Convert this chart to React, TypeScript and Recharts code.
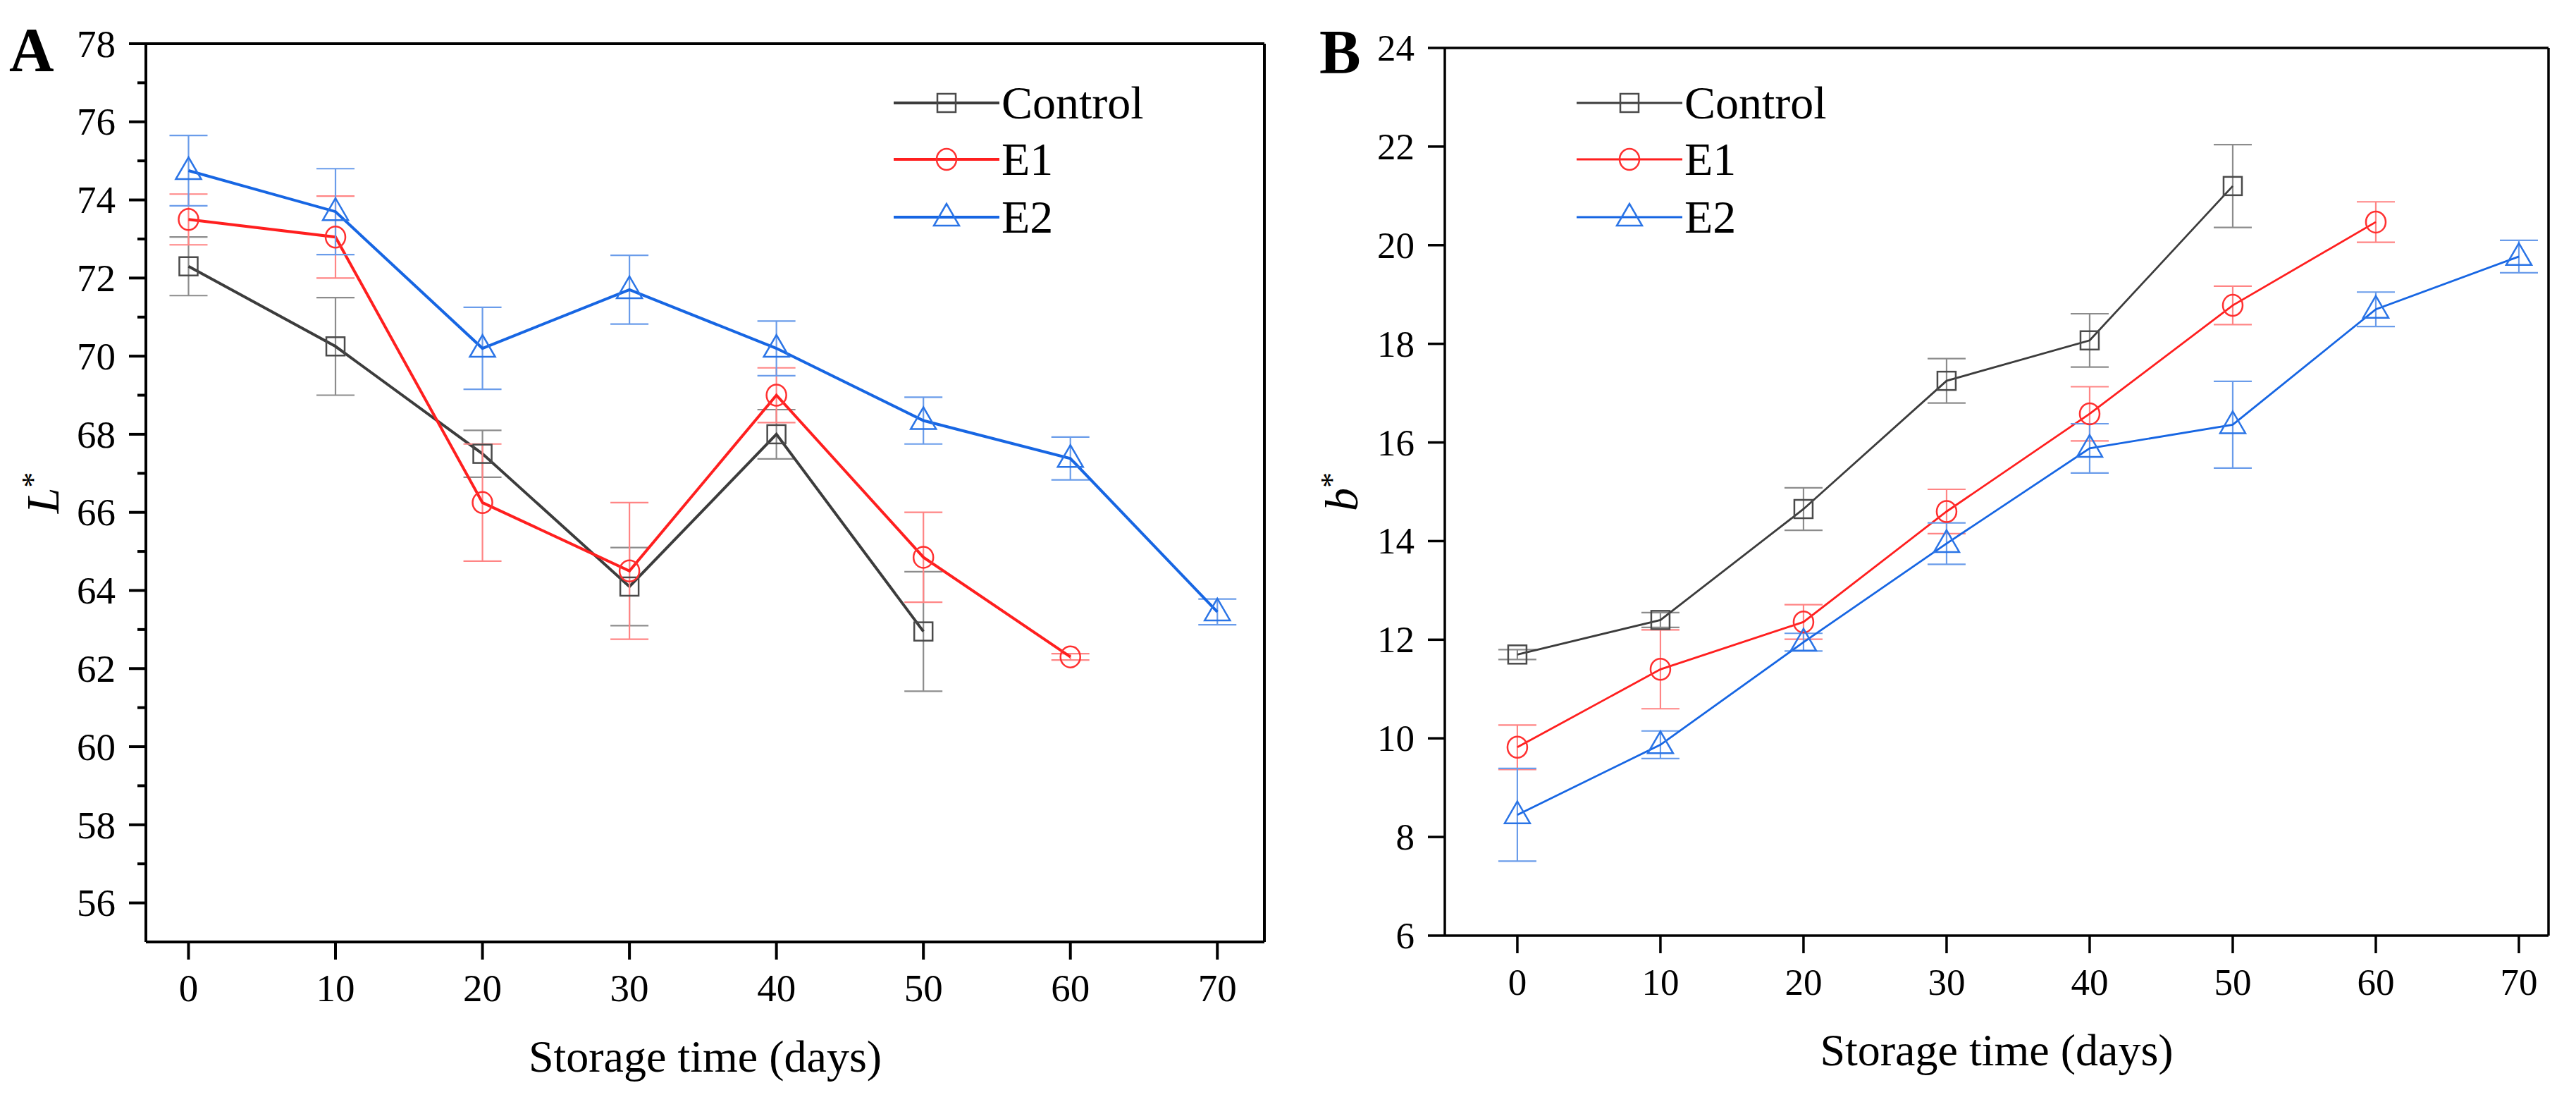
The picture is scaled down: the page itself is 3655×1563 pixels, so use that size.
import React from 'react';
import {
  LineChart,
  Line,
  XAxis,
  YAxis,
  ErrorBar,
  Legend,
  ReferenceLine,
  Label,
} from 'recharts';

const FONT = '"Liberation Serif", "Times New Roman", serif';

// storage days
const days = [0, 10, 20, 30, 40, 50, 60, 70];
const xTicks = [0, 10, 20, 30, 40, 50, 60, 70];

// panel A: L*
const lControl = [72.3, 70.25, 67.5, 64.1, 68.0, 62.95];
const lControlErr = [0.75, 1.25, 0.6, 1.0, 0.63, 1.53];
const lE1 = [73.5, 73.05, 66.25, 64.5, 69.0, 64.85, 62.3];
const lE1Err = [0.65, 1.05, 1.5, 1.75, 0.7, 1.15, 0.08];
const lE2 = [74.75, 73.7, 70.2, 71.7, 70.2, 68.35, 67.38, 63.45];
const lE2Err = [0.9, 1.1, 1.05, 0.88, 0.7, 0.6, 0.55, 0.33];
const lTicks = [56, 57, 58, 59, 60, 61, 62, 63, 64, 65, 66, 67, 68, 69, 70, 71, 72, 73, 74, 75, 76, 77, 78];

// panel B: b*
const bControl = [11.7, 12.4, 14.65, 17.25, 18.07, 21.2];
const bControlErr = [0.1, 0.15, 0.43, 0.45, 0.54, 0.84];
const bE1 = [9.82, 11.4, 12.36, 14.6, 16.58, 18.78, 20.47];
const bE1Err = [0.45, 0.8, 0.35, 0.45, 0.55, 0.39, 0.41];
const bE2 = [8.45, 9.87, 11.95, 13.95, 15.88, 16.36, 18.7, 19.77];
const bE2Err = [0.94, 0.28, 0.18, 0.42, 0.5, 0.88, 0.35, 0.33];
const bTicks = [6, 8, 10, 12, 14, 16, 18, 20, 22, 24];

const toRows = (vals: number[], errs: number[]) =>
  vals.map((v, i) => ({ day: days[i], value: v, err: errs[i] }));

const styles: Record<string, { kind: string; line: string; mark: string; err: string }> = {
  Control: { kind: 'square', line: '#3c3c3c', mark: '#4a4a4a', err: '#8c8c8c' },
  E1: { kind: 'circle', line: '#ff1f1f', mark: '#ff3030', err: '#ff8585' },
  E2: { kind: 'triangle', line: '#1766e3', mark: '#2a74e6', err: '#6a9cea' },
};

function Marker({ kind, cx, cy, color, sw }: any) {
  if (cx == null || cy == null) return null;
  if (kind === 'square')
    return <rect x={cx - 13} y={cy - 13} width={26} height={26} fill="none" stroke={color} strokeWidth={sw} />;
  if (kind === 'circle')
    return <ellipse cx={cx} cy={cy} rx={14} ry={15} fill="none" stroke={color} strokeWidth={sw} />;
  return (
    <polygon
      points={`${cx},${cy - 19} ${cx - 18},${cy + 12} ${cx + 18},${cy + 12}`}
      fill="none"
      stroke={color}
      strokeWidth={sw}
    />
  );
}

const makeYTick = (labelled: (v: number) => boolean, sw: number, fs: number) => (props: any) => {
  const { x, y, payload } = props;
  const major = labelled(payload.value);
  return (
    <g>
      <line x1={x - (major ? 24 : 12)} x2={x} y1={y} y2={y} stroke="#000" strokeWidth={sw} />
      {major && (
        <text x={x - 43} y={y} dy="0.34em" textAnchor="end" fontFamily={FONT} fontSize={fs} fill="#000">
          {payload.value}
        </text>
      )}
    </g>
  );
};

const makeXTick = (sw: number, fs: number) => (props: any) => {
  const { x, y, payload } = props;
  return (
    <g>
      <line x1={x} x2={x} y1={y} y2={y + 25} stroke="#000" strokeWidth={sw} />
      <text x={x} y={y + 84} textAnchor="middle" fontFamily={FONT} fontSize={fs} fill="#000">
        {payload.value}
      </text>
    </g>
  );
};

const xTitle = (props: any) => {
  const vb = props.viewBox;
  return (
    <text x={vb.x + vb.width / 2} y={vb.y + 184} textAnchor="middle" fontFamily={FONT} fontSize={64} fill="#000">
      Storage time (days)
    </text>
  );
};

const yTitle = (letter: string) => (props: any) => {
  const vb = props.viewBox;
  const x = vb.x + vb.width - 124;
  const y = vb.y + vb.height / 2;
  return (
    <text x={x} y={y} transform={`rotate(-90 ${x} ${y})`} textAnchor="middle" fontFamily={FONT} fontSize={66} fill="#000">
      <tspan fontStyle="italic">{letter}</tspan>
      <tspan fontSize={44} dy={-22}>*</tspan>
    </text>
  );
};

const legendContent = (sw: number) => (props: any) => {
  const rows = [40, 120, 202];
  return (
    <svg width={420} height={250}>
      {(props.payload || []).map((p: any, i: number) => {
        const s = styles[p.value];
        const cy = rows[i];
        return (
          <g key={p.value}>
            <line x1={0} x2={150} y1={cy} y2={cy} stroke={s.line} strokeWidth={sw} />
            <Marker kind={s.kind} cx={75} cy={cy} color={s.mark} sw={2.5} />
            <text x={153} y={cy + 22} fontFamily={FONT} fontSize={66} fill="#000">
              {p.value}
            </text>
          </g>
        );
      })}
    </svg>
  );
};

type Panel = {
  series: { name: string; rows: { day: number; value: number; err: number }[] }[];
  yDomain: [number, number];
  yTicks: number[];
  labelled: (v: number) => boolean;
  xDomain: [number, number];
  margin: { top: number; right: number; bottom: number; left: number };
  width: number;
  lineW: number;
  axisW: number;
  tickFont: number;
  letter: string;
  legendLeft: number;
};

function PanelChart({ p }: { p: Panel }) {
  return (
    <LineChart width={p.width} height={1563} margin={p.margin}>
      <XAxis
        dataKey="day"
        type="number"
        domain={p.xDomain}
        ticks={xTicks}
        interval={0}
        allowDataOverflow
        height={100}
        tickSize={0}
        tickMargin={0}
        tickLine={false}
        tick={makeXTick(p.axisW, p.tickFont)}
        axisLine={{ stroke: '#000', strokeWidth: p.axisW }}
      >
        <Label content={xTitle} />
      </XAxis>
      <YAxis
        type="number"
        domain={p.yDomain}
        ticks={p.yTicks}
        interval={0}
        allowDataOverflow
        width={100}
        tickSize={0}
        tickMargin={0}
        tickLine={false}
        tick={makeYTick(p.labelled, p.axisW, p.tickFont)}
        axisLine={{ stroke: '#000', strokeWidth: p.axisW }}
      >
        <Label content={yTitle(p.letter)} />
      </YAxis>
      <ReferenceLine y={p.yDomain[1]} stroke="#000" strokeWidth={p.axisW} />
      <ReferenceLine x={p.xDomain[1]} stroke="#000" strokeWidth={p.axisW} />
      {p.series.map((s) => {
        const st = styles[s.name];
        return (
          <Line
            key={s.name}
            data={s.rows}
            dataKey="value"
            name={s.name}
            type="linear"
            stroke={st.line}
            strokeWidth={p.lineW}
            isAnimationActive={false}
            activeDot={false}
            dot={(d: any) => (
              <Marker key={`${s.name}-${d.index}`} kind={st.kind} cx={d.cx} cy={d.cy} color={st.mark} sw={2.5} />
            )}
          >
            <ErrorBar dataKey="err" direction="y" width={27} stroke={st.err} strokeWidth={2.2} />
          </Line>
        );
      })}
      <Legend
        layout="vertical"
        align="center"
        verticalAlign="middle"
        content={legendContent(p.lineW)}
        wrapperStyle={{ left: p.legendLeft, top: 106, width: 420, height: 250 }}
      />
    </LineChart>
  );
}

const panelA: Panel = {
  series: [
    { name: 'Control', rows: toRows(lControl, lControlErr) },
    { name: 'E1', rows: toRows(lE1, lE1Err) },
    { name: 'E2', rows: toRows(lE2, lE2Err) },
  ],
  yDomain: [55, 78],
  yTicks: lTicks,
  labelled: (v) => v % 2 === 0,
  xDomain: [-2.9, 73.2],
  margin: { top: 62, right: 36, bottom: 127, left: 107 },
  width: 1830,
  lineW: 4,
  axisW: 4,
  tickFont: 55,
  letter: 'L',
  legendLeft: 1268,
};

const panelB: Panel = {
  series: [
    { name: 'Control', rows: toRows(bControl, bControlErr) },
    { name: 'E1', rows: toRows(bE1, bE1Err) },
    { name: 'E2', rows: toRows(bE2, bE2Err) },
  ],
  yDomain: [6, 24],
  yTicks: bTicks,
  labelled: () => true,
  xDomain: [-5.07, 72.07],
  margin: { top: 68, right: 39, bottom: 136, left: 120 },
  width: 1825,
  lineW: 2.8,
  axisW: 3.5,
  tickFont: 53,
  letter: 'b',
  legendLeft: 407,
};

export default function App() {
  return (
    <div style={{ position: 'absolute', left: 0, top: 0, width: 3655, height: 1563, background: '#fff', overflow: 'hidden' }}>
      <div style={{ position: 'absolute', left: 0, top: 0 }}>
        <PanelChart p={panelA} />
      </div>
      <div style={{ position: 'absolute', left: 1830, top: 0 }}>
        <PanelChart p={panelB} />
      </div>
      <svg width={3655} height={1563} style={{ position: 'absolute', left: 0, top: 0, pointerEvents: 'none' }}>
        <text x={13} y={100} fontFamily={FONT} fontWeight="bold" fontSize={88} fill="#000">A</text>
        <text x={1872} y={103} fontFamily={FONT} fontWeight="bold" fontSize={88} fill="#000">B</text>
      </svg>
    </div>
  );
}
